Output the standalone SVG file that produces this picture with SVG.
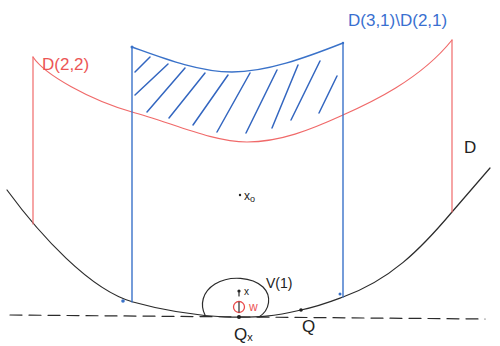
<svg xmlns="http://www.w3.org/2000/svg" width="500" height="346" viewBox="0 0 500 346">
<style>
.blk{fill:none;stroke:#2b2b2b;stroke-width:1.2;stroke-linecap:round}
.red{fill:none;stroke:#f06a6a;stroke-width:1.2;stroke-linecap:round}
.blu{fill:none;stroke:#3a72c9;stroke-width:1.4;stroke-linecap:round}
.hat{fill:none;stroke:#3366c0;stroke-width:1.5;stroke-linecap:round}
text{font-family:"Liberation Sans",Arial,sans-serif}
.tr{fill:#ec5555}
.tb{fill:#3a6fd0}
.tk{fill:#222}
</style>
<rect width="500" height="346" fill="#fff"/>
<g id="connectors">
<path class="blk" d="M10,315 L485,319" stroke-dasharray="12 7"/>
<path id="curve-D-boundary" class="blk" d="M7,190 C40,235 90,290 133,302 C165,311 190,315 225,317 C260,318 275,316 301,310 C320,306 335,300 343,297 C390,280 420,250 452,212 C465,197 478,182 490,168"/>
<path class="red" d="M33,57 L33,224"/>
<path class="red" d="M452,40 L452,212"/>
<path class="red" d="M33,57 C45,75 90,100 132,112 C170,122 212,142 247,142 C280,142 310,130 343,115 C370,103 420,80 452,40"/>
<path class="blu" d="M132,47 L132,302"/>
<path class="blu" d="M343,43 L343,297"/>
<path class="blu" d="M132,47 C160,57 198,72 232,72 C266,72 305,58 343,43"/>
</g>
<g id="hatching">
<path class="hat" d="M135,72 L150,57"/>
<path class="hat" d="M135,95 L168,64"/>
<path class="hat" d="M147,112 L185,68"/>
<path class="hat" d="M169,118 L205,73"/>
<path class="hat" d="M193,125 L228,75"/>
<path class="hat" d="M217,132 L250,73"/>
<path class="hat" d="M246,133 L277,70"/>
<path class="hat" d="M272,128 L298,65"/>
<path class="hat" d="M291,120 L320,61"/>
<path class="hat" d="M319,113 L337,76"/>
</g>
<g id="marks">
<circle cx="123" cy="301" r="1.8" fill="#3a72c9"/>
<circle cx="340" cy="294" r="1.5" fill="#3a72c9"/>
<circle cx="132" cy="47" r="1.5" fill="#3a72c9"/>
<circle cx="343" cy="43" r="1.2" fill="#3a72c9"/>
</g>
<g id="V1">
<path class="blk" d="M205,315 C200,305 202,292 215,284 C230,275 252,277 263,287 C272,296 270,310 259,317"/>
<text class="tk" x="266" y="288" font-size="14">V(1)</text>
</g>
<g id="x-point">
<circle cx="239" cy="291" r="1.6" fill="#222"/>
<path class="blk" d="M239,291 L239,296"/>
<text class="tk" x="244" y="295" font-size="10">x</text>
</g>
<g id="w">
<circle cx="239" cy="307" r="5.5" fill="none" stroke="#e84a4a" stroke-width="1.3"/>
<path class="blk" d="M239,302 L239,312"/>
<text class="tr" x="249" y="311" font-size="12">w</text>
</g>
<g id="Qx">
<circle cx="239" cy="317" r="2" fill="#222"/>
<text class="tk" x="234" y="340" font-size="17">Q<tspan font-size="11" dy="1">x</tspan></text>
</g>
<g id="Q">
<circle cx="301" cy="310" r="1.8" fill="#222"/>
<text class="tk" x="302" y="332" font-size="17">Q</text>
</g>
<g id="x0">
<circle cx="240" cy="195" r="1.2" fill="#222"/>
<text class="tk" x="244" y="200" font-size="12">x<tspan font-size="9" dy="2">o</tspan></text>
</g>
<g id="label-D22"><text class="tr" x="42" y="70" font-size="17">D(2,2)</text></g>
<g id="label-D31"><text class="tb" x="348" y="26" font-size="17">D(3,1)\D(2,1)</text></g>
<g id="label-D"><text class="tk" x="464" y="153" font-size="17">D</text></g>
</svg>
